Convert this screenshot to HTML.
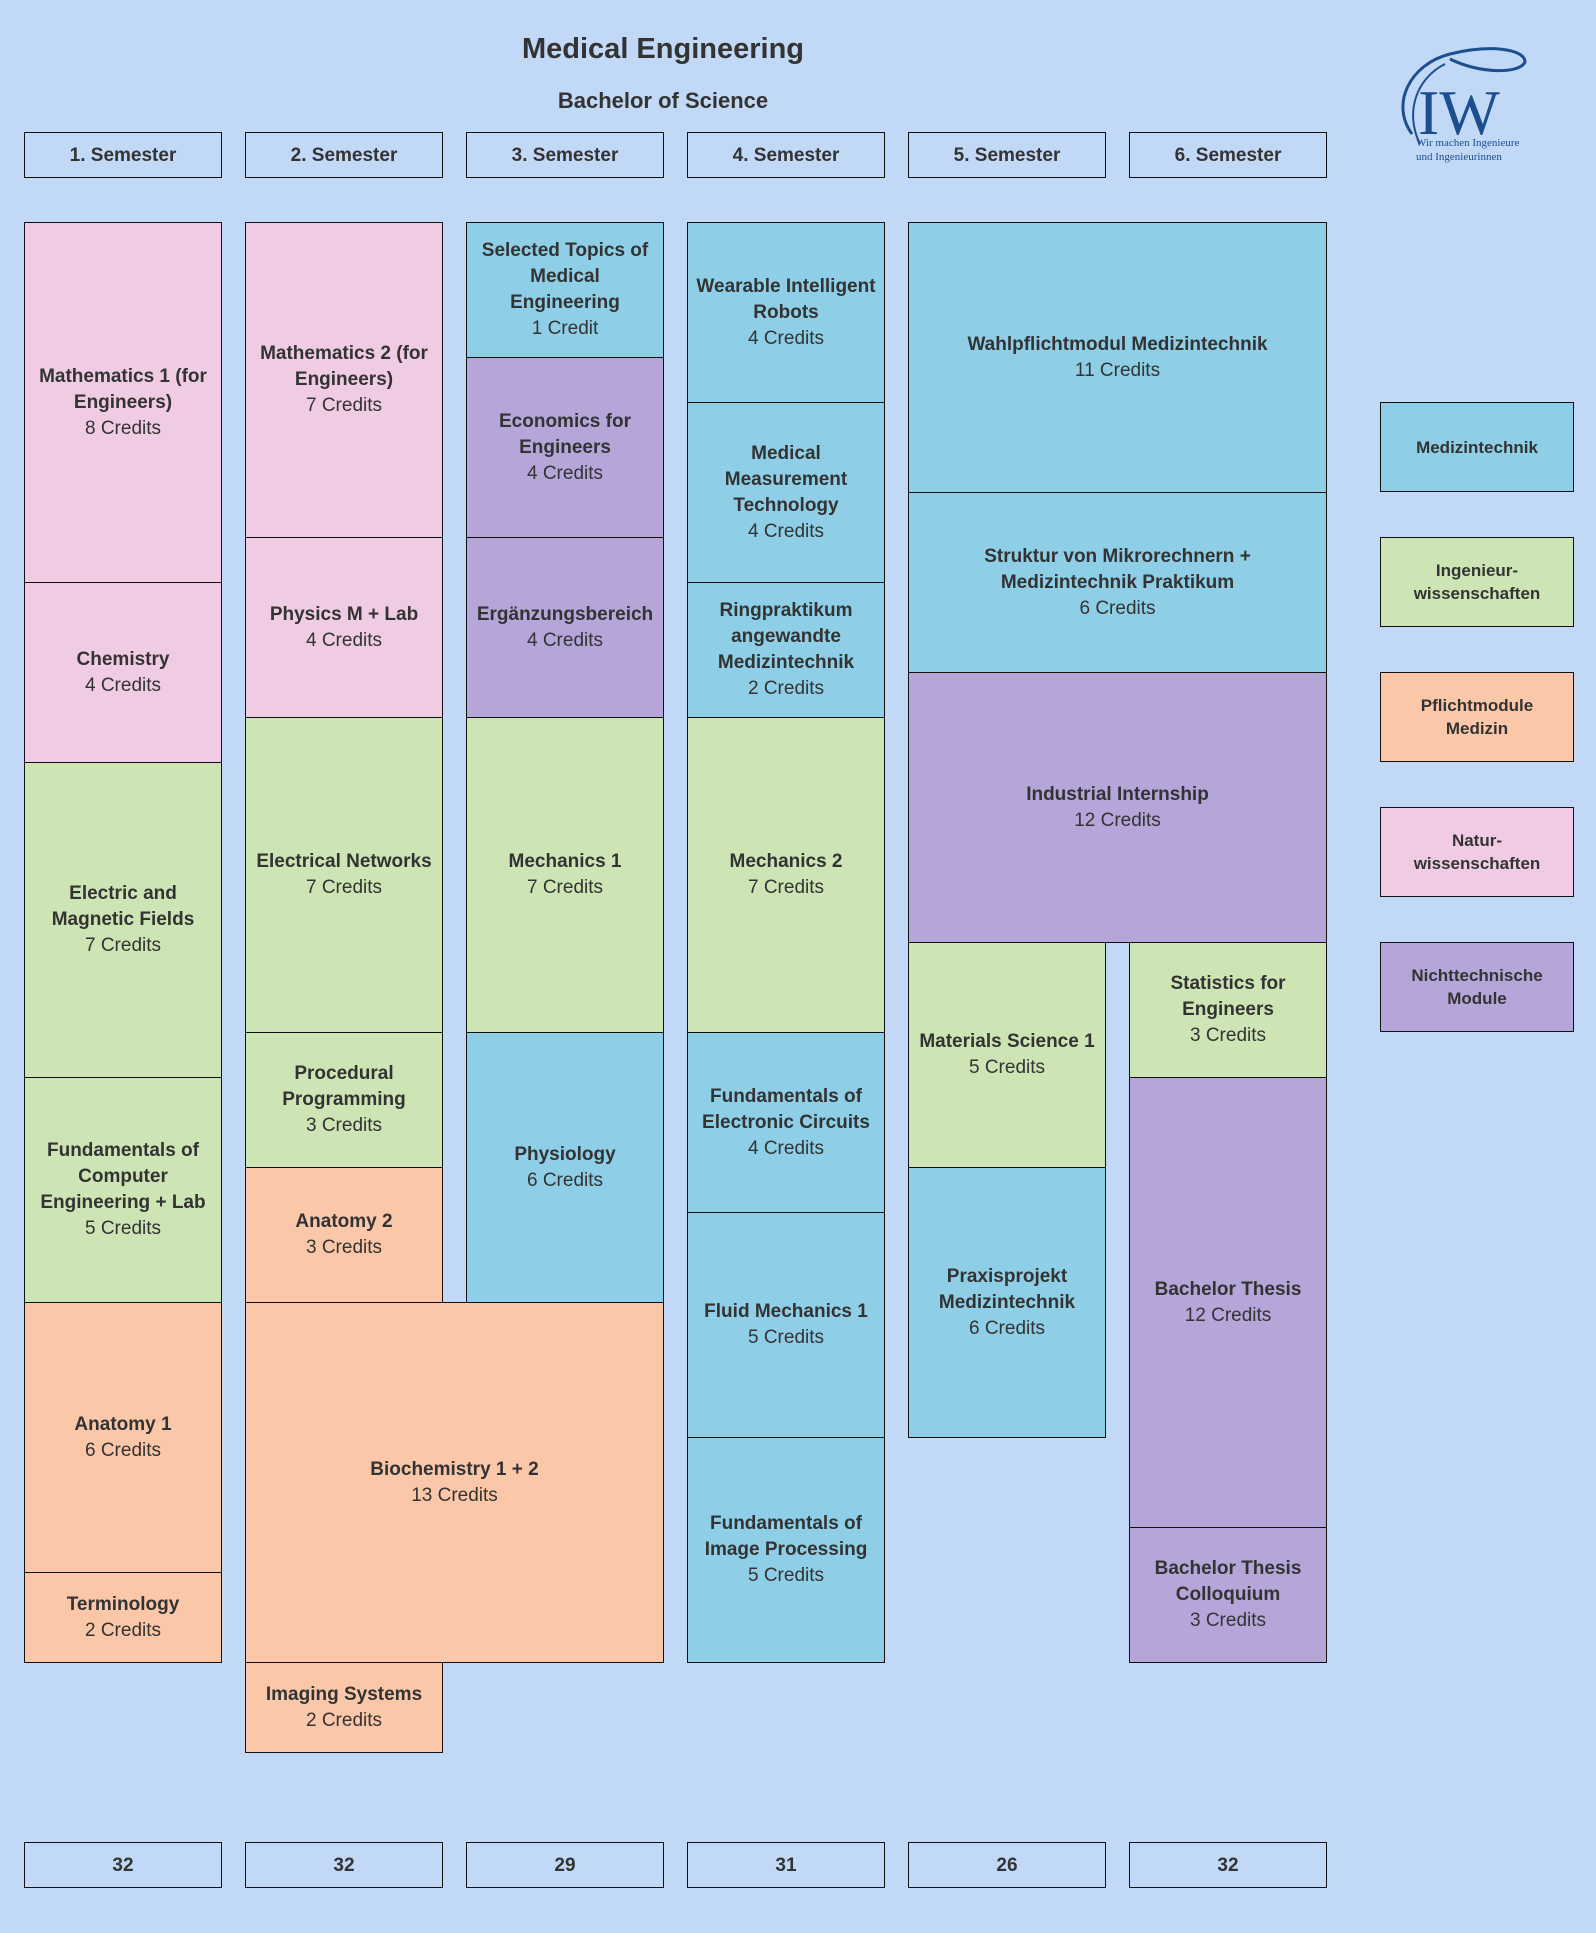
<!DOCTYPE html>
<html><head><meta charset="utf-8"><style>
body{margin:0;width:1596px;height:1933px;background:#c1d8f7;position:relative;overflow:hidden;font-family:"Liberation Sans",sans-serif;color:#333}
.b{position:absolute;box-sizing:border-box;border:1.5px solid #111;display:flex;align-items:center;justify-content:center;text-align:center;flex-direction:column;font-size:19px;line-height:26px;padding:0 6px}
.b b{font-weight:bold}
.p{background:#f0cce4}.g{background:#cde5b5}.o{background:#fbc7a9}.c{background:#8ecfe7}.v{background:#b6a5d9}.h{background:#c1d8f7;font-weight:bold;font-size:19px;padding-top:2px}
.l{font-weight:bold;font-size:17px;line-height:23px}
</style></head><body>
<div style="position:absolute;left:0;width:1326px;top:33px;text-align:center;font-weight:bold;font-size:29px">Medical Engineering</div>
<div style="position:absolute;left:0;width:1326px;top:88px;text-align:center;font-weight:bold;font-size:22px">Bachelor of Science</div>
<svg style="position:absolute;left:1390px;top:44px" width="150" height="125" viewBox="0 0 150 125">
<path d="M22 90 C0 60 20 20 60 10 C100 0 135 5 135 18 C130 30 90 30 60 15" fill="none" stroke="#1d4f8f" stroke-width="3"/>
<path d="M30 100 C15 70 25 35 55 20" fill="none" stroke="#1d4f8f" stroke-width="2"/>
<text x="28" y="90" font-family="Liberation Serif,serif" font-size="64" fill="#1d4f8f">IW</text>
<text x="26" y="102" font-family="Liberation Serif,serif" font-size="11" fill="#1d4f8f">Wir machen Ingenieure</text>
<text x="26" y="116" font-family="Liberation Serif,serif" font-size="11" fill="#1d4f8f">und Ingenieurinnen</text>
</svg>

<div class="b h" style="left:24px;top:132px;width:198px;height:46px">1. Semester</div>
<div class="b h" style="left:245px;top:132px;width:198px;height:46px">2. Semester</div>
<div class="b h" style="left:466px;top:132px;width:198px;height:46px">3. Semester</div>
<div class="b h" style="left:687px;top:132px;width:198px;height:46px">4. Semester</div>
<div class="b h" style="left:908px;top:132px;width:198px;height:46px">5. Semester</div>
<div class="b h" style="left:1129px;top:132px;width:198px;height:46px">6. Semester</div>

<div class="b p" style="left:24px;top:222px;width:198px;height:361px"><b>Mathematics 1 (for Engineers)</b>8 Credits</div>
<div class="b p" style="left:24px;top:582px;width:198px;height:181px"><b>Chemistry</b>4 Credits</div>
<div class="b g" style="left:24px;top:762px;width:198px;height:316px"><b>Electric and Magnetic Fields</b>7 Credits</div>
<div class="b g" style="left:24px;top:1077px;width:198px;height:226px"><b>Fundamentals of Computer Engineering + Lab</b>5 Credits</div>
<div class="b o" style="left:24px;top:1302px;width:198px;height:271px"><b>Anatomy 1</b>6 Credits</div>
<div class="b o" style="left:24px;top:1572px;width:198px;height:91px"><b>Terminology</b>2 Credits</div>

<div class="b p" style="left:245px;top:222px;width:198px;height:316px"><b>Mathematics 2 (for Engineers)</b>7 Credits</div>
<div class="b p" style="left:245px;top:537px;width:198px;height:181px"><b>Physics M + Lab</b>4 Credits</div>
<div class="b g" style="left:245px;top:717px;width:198px;height:316px"><b>Electrical Networks</b>7 Credits</div>
<div class="b g" style="left:245px;top:1032px;width:198px;height:136px"><b>Procedural Programming</b>3 Credits</div>
<div class="b o" style="left:245px;top:1167px;width:198px;height:136px"><b>Anatomy 2</b>3 Credits</div>
<div class="b o" style="left:245px;top:1302px;width:419px;height:361px"><b>Biochemistry 1 + 2</b>13 Credits</div>
<div class="b o" style="left:245px;top:1662px;width:198px;height:91px"><b>Imaging Systems</b>2 Credits</div>

<div class="b c" style="left:466px;top:222px;width:198px;height:136px"><b>Selected Topics of<br>Medical<br>Engineering</b>1 Credit</div>
<div class="b v" style="left:466px;top:357px;width:198px;height:181px"><b>Economics for Engineers</b>4 Credits</div>
<div class="b v" style="left:466px;top:537px;width:198px;height:181px"><b>Ergänzungsbereich</b>4 Credits</div>
<div class="b g" style="left:466px;top:717px;width:198px;height:316px"><b>Mechanics 1</b>7 Credits</div>
<div class="b c" style="left:466px;top:1032px;width:198px;height:271px"><b>Physiology</b>6 Credits</div>

<div class="b c" style="left:687px;top:222px;width:198px;height:181px"><b>Wearable Intelligent Robots</b>4 Credits</div>
<div class="b c" style="left:687px;top:402px;width:198px;height:181px"><b>Medical Measurement Technology</b>4 Credits</div>
<div class="b c" style="left:687px;top:582px;width:198px;height:136px"><b>Ringpraktikum angewandte Medizintechnik</b>2 Credits</div>
<div class="b g" style="left:687px;top:717px;width:198px;height:316px"><b>Mechanics 2</b>7 Credits</div>
<div class="b c" style="left:687px;top:1032px;width:198px;height:181px"><b>Fundamentals of Electronic Circuits</b>4 Credits</div>
<div class="b c" style="left:687px;top:1212px;width:198px;height:226px"><b>Fluid Mechanics 1</b>5 Credits</div>
<div class="b c" style="left:687px;top:1437px;width:198px;height:226px"><b>Fundamentals of Image Processing</b>5 Credits</div>

<div class="b c" style="left:908px;top:222px;width:419px;height:271px"><b>Wahlpflichtmodul Medizintechnik</b>11 Credits</div>
<div class="b c" style="left:908px;top:492px;width:419px;height:181px"><b>Struktur von Mikrorechnern +<br>Medizintechnik Praktikum</b>6 Credits</div>
<div class="b v" style="left:908px;top:672px;width:419px;height:271px"><b>Industrial Internship</b>12 Credits</div>
<div class="b g" style="left:908px;top:942px;width:198px;height:226px"><b>Materials Science 1</b>5 Credits</div>
<div class="b c" style="left:908px;top:1167px;width:198px;height:271px"><b>Praxisprojekt Medizintechnik</b>6 Credits</div>
<div class="b g" style="left:1129px;top:942px;width:198px;height:136px"><b>Statistics for Engineers</b>3 Credits</div>
<div class="b v" style="left:1129px;top:1077px;width:198px;height:451px"><b>Bachelor Thesis</b>12 Credits</div>
<div class="b v" style="left:1129px;top:1527px;width:198px;height:136px"><b>Bachelor Thesis Colloquium</b>3 Credits</div>

<div class="b c l" style="left:1380px;top:402px;width:194px;height:90px">Medizintechnik</div>
<div class="b g l" style="left:1380px;top:537px;width:194px;height:90px">Ingenieur-<br>wissenschaften</div>
<div class="b o l" style="left:1380px;top:672px;width:194px;height:90px">Pflichtmodule<br>Medizin</div>
<div class="b p l" style="left:1380px;top:807px;width:194px;height:90px">Natur-<br>wissenschaften</div>
<div class="b v l" style="left:1380px;top:942px;width:194px;height:90px">Nichttechnische<br>Module</div>

<div class="b h" style="left:24px;top:1842px;width:198px;height:46px">32</div>
<div class="b h" style="left:245px;top:1842px;width:198px;height:46px">32</div>
<div class="b h" style="left:466px;top:1842px;width:198px;height:46px">29</div>
<div class="b h" style="left:687px;top:1842px;width:198px;height:46px">31</div>
<div class="b h" style="left:908px;top:1842px;width:198px;height:46px">26</div>
<div class="b h" style="left:1129px;top:1842px;width:198px;height:46px">32</div>
</body></html>
